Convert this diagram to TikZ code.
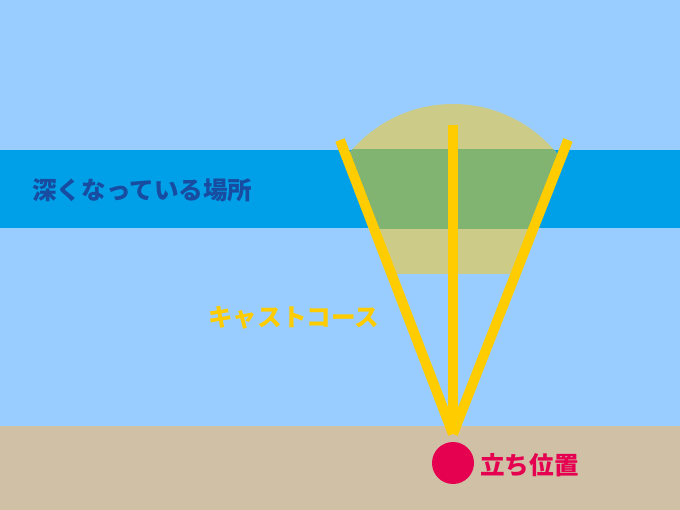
\documentclass[tikz,border=0pt]{standalone}
\usepackage{fontspec}
\usetikzlibrary{calc}
\newfontfamily\cjk{Noto Sans CJK JP}
\definecolor{sky}{RGB}{153,204,255}
\definecolor{deep}{RGB}{0,160,233}
\definecolor{sand}{RGB}{208,192,166}
\definecolor{spot}{RGB}{204,204,136}
\definecolor{spotdeep}{RGB}{128,180,112}
\definecolor{castyellow}{RGB}{255,204,0}
\definecolor{labelblue}{RGB}{24,76,160}
\definecolor{standred}{RGB}{230,0,80}

\begin{document}
\begin{tikzpicture}[x=0.02cm, y=-0.02cm,
      label/.style={font=\cjk\bfseries\fontsize{14}{14}\selectfont, inner sep=0pt},
      cast/.style={draw=castyellow, line width=10*0.02cm}]
      \useasboundingbox (0,0) rectangle (680,510);
      \fill[sky] (0,0) rectangle (680,510);
      \fill[deep] (0,150) rectangle (680,228);
      \fill[sand] (0,426) rectangle (680,510);

      \coordinate (apex) at (453,434);
      \coordinate (castL) at (340,140);
      \coordinate (castC) at (453,125);
      \coordinate (castR) at (568,140);

      \begin{scope}
          \clip ($(apex)!1.3!(castL)$) -- (apex) -- ($(apex)!1.3!(castR)$) -- cycle;
          \clip (0,0) rectangle (680,273);
          \fill[spot] (453,238) circle (134);
          \clip (0,150) rectangle (680,228);
          \fill[spotdeep] (453,238) circle (134);
      \end{scope}

      \draw[cast] (apex) -- (castL);
      \draw[cast] (apex) -- (castC);
      \draw[cast] (apex) -- (castR);

      \node[label, anchor=west, text=labelblue] (deeplabel) at (32,190) {深くなっている場所};
      \node[label, anchor=west, text=castyellow] (castlabel) at (208,318) {キャストコース};
      \node[circle, fill=standred, minimum size=42*0.02cm, inner sep=0pt] (stand) at (453,463) {};
      \node[label, anchor=west, text=standred] (standlabel) at (480,465) {立ち位置};
\end{tikzpicture}
\end{document}
